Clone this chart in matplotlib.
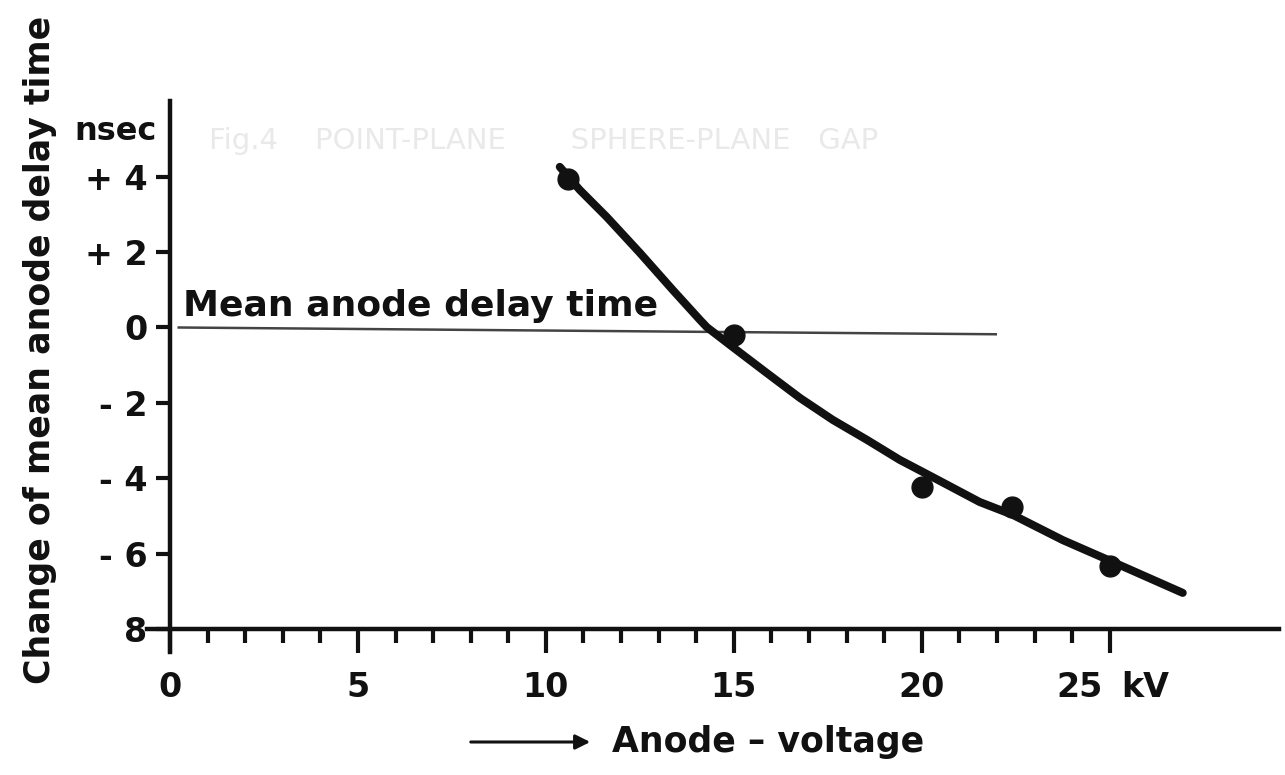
import numpy as np
import matplotlib
matplotlib.use('Agg')
import matplotlib.pyplot as plt
import matplotlib.transforms as mtransforms

# measured points (kV, nsec)
volt_pts = [10.6, 15.0, 20.0, 22.4, 25.0]
delay_pts = [3.93, -0.20, -4.23, -4.76, -6.33]

# hand-drawn fit curve
curve_v = [10.37, 10.90, 11.62, 12.50, 13.38, 14.10, 14.28, 14.97, 15.88, 16.76, 17.63,
           18.54, 19.41, 20.29, 21.54, 22.42, 23.75, 25.08, 26.94]
curve_d = [4.26, 3.65, 2.93, 1.98, 0.99, 0.20, 0.01, -0.52, -1.21, -1.87, -2.45,
           -2.98, -3.51, -3.97, -4.63, -4.97, -5.64, -6.22, -7.04]

# mean delay reference line
mean_v = [0.2, 22.0]
mean_d = [0.0, -0.18]

y_ticks = [-8, -6, -4, -2, 0, 2, 4]
y_labels = ['8', '- 6', '- 4', '- 2', '0', '+ 2', '+ 4']
x_major = [0, 5, 10, 15, 20, 25]
x_labels = ['0', '5', '10', '15', '20', '25']
x_minor = [v for v in range(1, 26) if v % 5]

ink = '#111111'
plt.rcParams['font.family'] = ['DejaVu Sans']
plt.rcParams['font.weight'] = 'bold'

fig = plt.figure(figsize=(12.85, 7.75), dpi=100)
ax = fig.add_axes([0.1147, 0.1591, 0.8806, 0.7102])
ax.set_xlim(-0.6, 29.5)
ax.set_ylim(-8.6, 6.0)

# faint show-through text from the back of the page
fig.text(0.163, 0.818, 'Fig.4    POINT-PLANE       SPHERE-PLANE   GAP',
         fontsize=21, fontweight='normal', color='#e9e9e9', va='center', ha='left')

for s in ['top', 'right']:
    ax.spines[s].set_visible(False)
ax.spines['left'].set_position(('data', 0))
ax.spines['bottom'].set_position(('data', -8))
ax.spines['left'].set_bounds(-8.6, 6.0)
ax.spines['bottom'].set_bounds(-0.6, 29.5)
for s in ['left', 'bottom']:
    ax.spines[s].set_linewidth(3.2)
    ax.spines[s].set_color(ink)

ax.set_yticks(y_ticks)
ax.set_yticklabels(y_labels, fontsize=24, color=ink, fontweight='bold')
ax.set_xticks(x_major)
ax.set_xticklabels(x_labels, fontsize=24, color=ink, fontweight='bold')
ax.set_xticks(x_minor, minor=True)
ax.tick_params(axis='y', direction='out', length=10, width=3, pad=6, color=ink)
ax.tick_params(axis='x', which='major', direction='out', length=17, width=3, pad=13, color=ink)
ax.tick_params(axis='x', which='minor', direction='out', length=10, width=3, color=ink)

# the "25" label sits a little left of its tick, next to the unit
shift = mtransforms.ScaledTranslation(-30 / 100, 0, fig.dpi_scale_trans)
lab25 = ax.get_xticklabels()[-1]
lab25.set_transform(lab25.get_transform() + shift)

ax.plot(mean_v, mean_d, color='#444444', lw=1.8, solid_capstyle='butt', zorder=2)
ax.text(0.35, 0.12, 'Mean anode delay time', fontsize=26, color=ink,
        ha='left', va='bottom')

ax.plot(curve_v, curve_d, color=ink, lw=5.8, solid_capstyle='round',
        solid_joinstyle='round', zorder=3)
ax.plot(volt_pts, delay_pts, 'o', color=ink, markersize=15, zorder=4)

ax.text(-1.45, 5.2, 'nsec', fontsize=23, color=ink, ha='center', va='center')
ax.text(25.3, -9.55, 'kV', fontsize=24, color=ink, ha='left', va='center')

fig.text(0.031, 0.548, 'Change of mean anode delay time', rotation=90,
         fontsize=25, color=ink, ha='center', va='center')
ax.annotate('', xy=(593 / 1285, 1 - 742 / 775), xytext=(468 / 1285, 1 - 742 / 775),
            xycoords='figure fraction', textcoords='figure fraction',
            arrowprops=dict(arrowstyle='-|>', color=ink, lw=2.2, mutation_scale=22))
fig.text(612 / 1285, 1 - 742 / 775, 'Anode \u2013 voltage', fontsize=25, color=ink,
         ha='left', va='center')

fig.savefig('out.png', dpi=100, facecolor='white')
